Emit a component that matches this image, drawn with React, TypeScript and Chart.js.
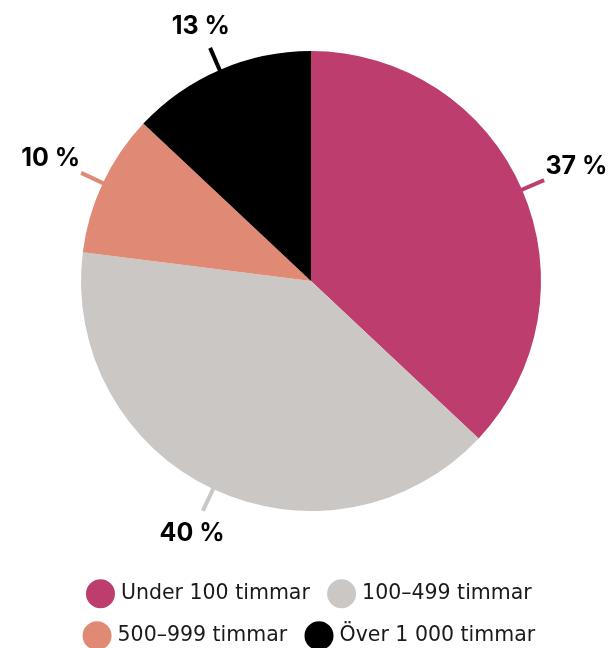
import { useEffect, useRef } from "react";
import { Chart, registerables } from "chart.js";

Chart.register(...registerables);

const categories = ["Under 100 timmar", "100–499 timmar", "500–999 timmar", "Över 1\u00a0000 timmar"];
const values = [37, 40, 10, 13];
const percentLabels = ["37 %", "40 %", "10 %", "13 %"];
const colors = ["#BD3D6F", "#CBC7C4", "#E08A75", "#000000"];

const LABEL_FONT = "Inter";
const LEGEND_FONT = "DejaVu Sans";

const labelPlugin = {
  id: "pieLabels",
  afterDatasetsDraw(chart: any) {
    const ctx = chart.ctx as CanvasRenderingContext2D;
    const meta = chart.getDatasetMeta(0);
    meta.data.forEach((arc: any, i: number) => {
      const { x, y, startAngle, endAngle, outerRadius } = arc.getProps(
        ["x", "y", "startAngle", "endAngle", "outerRadius"],
        true
      );
      const mid = (startAngle + endAngle) / 2;
      const dx = Math.cos(mid);
      const dy = Math.sin(mid);
      ctx.save();
      ctx.strokeStyle = colors[i];
      ctx.lineWidth = 4;
      ctx.beginPath();
      ctx.moveTo(x + dx * (outerRadius - 6), y + dy * (outerRadius - 6));
      ctx.lineTo(x + dx * (outerRadius + 24), y + dy * (outerRadius + 24));
      ctx.stroke();
      ctx.font = `bold 25px ${LABEL_FONT}`;
      const text = percentLabels[i];
      const w = ctx.measureText(text).width;
      const h = 19;
      const d = outerRadius + 27 + (Math.abs(dx) * w) / 2 + (Math.abs(dy) * h) / 2;
      ctx.textAlign = "center";
      ctx.textBaseline = "middle";
      ctx.fillStyle = "#000";
      ctx.fillText(text, x + dx * d, y + dy * d);
      ctx.restore();
    });
  },
};

export default function App() {
  const ref = useRef<HTMLCanvasElement>(null);
  useEffect(() => {
    if (!ref.current) return;
    const chart = new Chart(ref.current, {
      type: "pie",
      data: {
        labels: categories,
        datasets: [
          {
            data: values,
            backgroundColor: colors,
            borderWidth: 0,
            radius: 230,
          } as any,
        ],
      },
      options: {
        animation: false,
        responsive: true,
        maintainAspectRatio: false,
        layout: { padding: { left: 8, right: 0, top: -2, bottom: 0 } },
        plugins: {
          tooltip: { enabled: false },
          legend: {
            position: "bottom",
            labels: {
              usePointStyle: true,
              pointStyle: "circle",
              padding: 21.5,
              color: "#1a1a1a",
              font: { family: LEGEND_FONT, size: 20.5 },
            },
          },
        },
      },
      plugins: [labelPlugin],
    });
    return () => chart.destroy();
  }, []);
  return (
    <div style={{ position: "fixed", left: 0, top: 0, width: 614, height: 656 }}>
      <canvas ref={ref} />
    </div>
  );
}
